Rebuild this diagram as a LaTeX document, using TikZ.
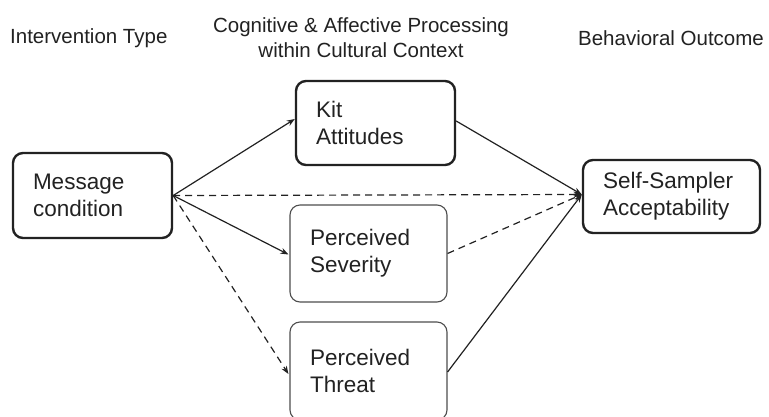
\documentclass[tikz,border=0pt]{standalone}
\usepackage{fontspec}
\setmainfont{Liberation Sans}
\usetikzlibrary{arrows.meta}
\definecolor{ink}{HTML}{222222}
\begin{document}
\begin{tikzpicture}[x=1pt,y=-1pt,
  thickbox/.style={draw=ink,line width=2.4pt,rounded corners=10pt,align=left,
    inner xsep=20pt,inner ysep=0pt,anchor=center,font=\fontsize{22.5}{27}\selectfont,text=ink},
  thinbox/.style={draw=ink!80,line width=1.1pt,rounded corners=10pt,align=left,
    inner xsep=20pt,inner ysep=0pt,anchor=center,font=\fontsize{22.5}{27}\selectfont,text=ink},
  header/.style={font=\fontsize{20.5}{25}\selectfont,text=ink,inner sep=0pt,align=center},
  conn/.style={draw=ink,line width=1.2pt},
  arr/.style={conn,-{Stealth[length=8pt,width=6pt]}},
  dsh/.style={dash pattern=on 7pt off 5pt}]
\useasboundingbox (0,0) rectangle (769,416);
\fill[white] (0,0) rectangle (769,416);
% headers
\node[header,anchor=west] (h1) at (10,38) {Intervention Type};
\node[header] (h2) at (361,38) {Cognitive \& Affective Processing\\within Cultural Context};
\node[header] (h3) at (671,38) {Behavioral Outcome};
% boxes
\node[thickbox,minimum width=159pt,minimum height=85pt,text width=119pt] (msg) at (92.5,195.5) {Message\\condition};
\node[thickbox,minimum width=159pt,minimum height=84pt,text width=119pt] (kit) at (375.5,123) {Kit\\Attitudes};
\node[thinbox,minimum width=157pt,minimum height=97pt,text width=117pt] (sev) at (368.5,253.5) {Perceived\\Severity};
\node[thinbox,minimum width=157pt,minimum height=98pt,text width=117pt] (thr) at (368.5,371) {Perceived\\Threat};
\node[thickbox,minimum width=177pt,minimum height=73pt,text width=137pt] (self) at (671.5,196.5) {Self-Sampler\\Acceptability};
% connectors
\coordinate (src) at (msg.east);
\coordinate (dst) at ([yshift=2pt]self.west);
\draw[arr] (src) -- ([yshift=4pt]kit.west);
\draw[arr] (src) -- ([xshift=-1pt,yshift=-1pt]sev.west);
\draw[arr,dsh] (src) -- ([xshift=-1pt,yshift=-3pt]thr.west);
\draw[arr,dsh] (src) -- (dst);
\draw[arr] ([yshift=2pt]kit.east) -- (dst);
\draw[arr,dsh] (sev.east) -- (dst);
\draw[arr] ([yshift=-1pt]thr.east) -- (dst);
\end{tikzpicture}
\end{document}
